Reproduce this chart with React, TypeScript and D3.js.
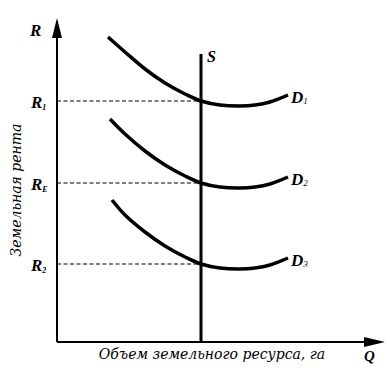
import React from "react";
import * as d3 from "d3";

const W = 390, H = 378;

// Q axis values (units) and R values
const dQ = [51, 68, 88, 108, 128, 144, 163, 183, 198, 213, 231];
const d1R = [305, 290, 273, 259, 248, 241, 237, 236, 237, 240, 247];
const d2Q = [53, 68, 88, 108, 128, 144, 163, 183, 198, 213, 231];
const d2R = [223, 208, 191, 177, 166, 159, 155, 154, 155, 158, 165];
const d3Q = [55, 68, 88, 108, 128, 144, 163, 183, 198, 213, 231];
const d3R = [142, 127, 110, 96, 85, 78, 74, 73, 74, 77, 84];
const supplyQ = 144;
const rentLevels = [241, 159, 78];
const rentNames = ["1", "E", "2"];
const curveNames = ["1", "2", "3"];

export default function App() {
  const x = d3.scaleLinear().domain([0, 320]).range([57, 377]);
  const y = d3.scaleLinear().domain([0, 320]).range([342, 22]);
  const line = d3
    .line<[number, number]>()
    .x((d) => x(d[0]))
    .y((d) => y(d[1]))
    .curve(d3.curveCatmullRom);
  const series: [number, number][][] = [
    dQ.map((q, i) => [q, d1R[i]]),
    d2Q.map((q, i) => [q, d2R[i]]),
    d3Q.map((q, i) => [q, d3R[i]]),
  ];
  const lab = {
    fontFamily: "'Liberation Serif', serif",
    fontStyle: "italic",
    fontWeight: 700,
  } as const;
  return (
    <svg width={W} height={H} style={{ position: "absolute", left: 0, top: 0, background: "#fff" }}>
      {/* axes */}
      <line x1={x(0)} y1={y(0)} x2={x(0)} y2={y(312)} stroke="#000" strokeWidth={2} />
      <path d={`M${x(0)},${y(324)} L${x(0) - 5},${y(304)} L${x(0) + 5},${y(304)} Z`} fill="#000" />
      <line x1={x(0)} y1={y(0)} x2={x(316)} y2={y(0)} stroke="#000" strokeWidth={2} />
      <path d={`M${x(328)},${y(0)} L${x(307)},${y(0) - 5} L${x(307)},${y(0) + 5} Z`} fill="#000" />
      {/* dashed rent levels */}
      {rentLevels.map((r, i) => (
        <line key={i} x1={x(0)} y1={y(r)} x2={x(supplyQ)} y2={y(r)} stroke="#000" strokeWidth={1.2} strokeDasharray="4,2.5" />
      ))}
      {/* supply */}
      <line x1={x(supplyQ)} y1={y(0)} x2={x(supplyQ)} y2={y(288)} stroke="#000" strokeWidth={3} />
      <text x={x(supplyQ) + 6} y={y(280)} fontSize={16} {...lab}>S</text>
      {/* demand curves */}
      {series.map((s, i) => (
        <g key={i}>
          <path d={line(s) || ""} fill="none" stroke="#000" strokeWidth={3.5} strokeLinecap="butt" />
          <text x={x(s[s.length - 1][0]) + 3} y={y(s[s.length - 1][1]) + 8} fontSize={17} {...lab}>
            D<tspan fontSize={9} dy={1} fontWeight={400}>{curveNames[i]}</tspan>
          </text>
        </g>
      ))}
      {/* rent labels */}
      <text x={30} y={36} fontSize={17} {...lab}>R</text>
      {rentLevels.map((r, i) => (
        <text key={i} x={31} y={y(r) + 7} fontSize={17} {...lab}>
          R<tspan fontSize={8} dy={2}>{rentNames[i]}</tspan>
        </text>
      ))}
      <text x={364} y={361} fontSize={15} {...lab}>Q</text>
      {/* axis titles */}
      <text x={212} y={359} fontSize={14} textAnchor="middle" fontFamily="'DejaVu Serif', serif" fontStyle="italic">
        Объем земельного ресурса, га
      </text>
      <text
        transform={`translate(21,190) rotate(-90)`}
        fontSize={14}
        textAnchor="middle"
        fontFamily="'DejaVu Serif', serif"
        fontStyle="italic"
      >
        Земельная рента
      </text>
    </svg>
  );
}
